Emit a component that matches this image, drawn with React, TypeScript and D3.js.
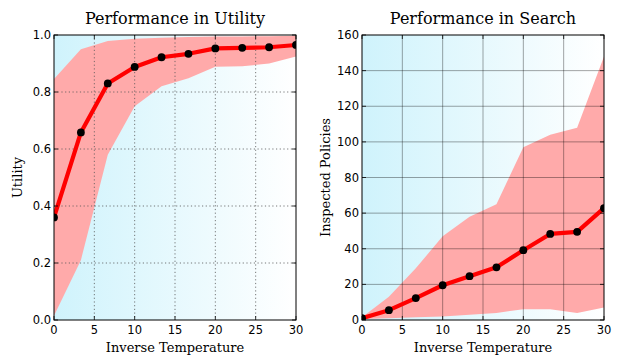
import React from "react";
import * as d3 from "d3";

const temps = [0, 3.333, 6.667, 10, 13.333, 16.667, 20, 23.333, 26.667, 30];
const utilMean = [0.36, 0.658, 0.83, 0.888, 0.922, 0.934, 0.953, 0.955, 0.957, 0.965];
const utilUpper = [0.846, 0.95, 0.979, 0.987, 0.99, 0.993, 0.995, 0.995, 0.996, 0.997];
const utilLower = [0.015, 0.21, 0.58, 0.75, 0.82, 0.848, 0.889, 0.89, 0.9, 0.925];
const searchMean = [1, 5.5, 12.3, 19.5, 24.6, 29.6, 39.2, 48.3, 49.5, 62.8];
const searchUpper = [1.5, 13, 29, 47, 58, 65, 97, 104, 108, 148];
const searchLower = [0.5, 1, 1.5, 2, 3, 4, 6, 6, 4, 7];
const xTicks = [0, 5, 10, 15, 20, 25, 30];
const utilTicks = [0, 0.2, 0.4, 0.6, 0.8, 1.0];
const searchTicks = [0, 20, 40, 60, 80, 100, 120, 140, 160];

type PanelProps = {
  id: string;
  left: number;
  right: number;
  top: number;
  bottom: number;
  yMax: number;
  mean: number[];
  upper: number[];
  lower: number[];
  yTicks: number[];
  fmt: (v: number) => string;
  title: string;
  yLabel: string;
  yLabelX: number;
  dotted: boolean;
};

function Panel(p: PanelProps) {
  const x = d3.scaleLinear().domain([0, 30]).range([p.left, p.right]);
  const y = d3.scaleLinear().domain([0, p.yMax]).range([p.bottom, p.top]);
  const area = d3
    .area<number>()
    .x((_, i) => x(temps[i]))
    .y0((_, i) => y(p.lower[i]))
    .y1((d) => y(d));
  const line = d3
    .line<number>()
    .x((_, i) => x(temps[i]))
    .y((d) => y(d));
  const serif = "'DejaVu Serif', 'Liberation Serif', serif";
  const sans = "'DejaVu Sans', sans-serif";
  const gridStyle = p.dotted
    ? { stroke: "#555", strokeWidth: 0.8, strokeDasharray: "1.2,2.5" }
    : { stroke: "#000", strokeOpacity: 0.45, strokeWidth: 0.8 };
  const cx = (p.left + p.right) / 2;
  const cy = (p.top + p.bottom) / 2;
  return (
    <g>
      <defs>
        <linearGradient id={p.id + "g"} x1="0" x2="1" y1="0" y2="0">
          <stop offset="0" stopColor="#cff3fc" />
          <stop offset="1" stopColor="#ffffff" />
        </linearGradient>
        <clipPath id={p.id + "c"}>
          <rect x={p.left} y={p.top} width={p.right - p.left} height={p.bottom - p.top} />
        </clipPath>
      </defs>
      <rect x={p.left} y={p.top} width={p.right - p.left} height={p.bottom - p.top} fill={`url(#${p.id}g)`} />
      <path d={area(p.upper) || ""} fill="#ffaaaa" stroke="none" clipPath={`url(#${p.id}c)`} />
      {xTicks.slice(1, -1).map((t) => (
        <line key={"gx" + t} x1={x(t)} x2={x(t)} y1={p.top} y2={p.bottom} {...gridStyle} />
      ))}
      {p.yTicks.slice(1, -1).map((t) => (
        <line key={"gy" + t} x1={p.left} x2={p.right} y1={y(t)} y2={y(t)} {...gridStyle} />
      ))}
      <g clipPath={`url(#${p.id}c)`}>
        <path d={line(p.mean) || ""} fill="none" stroke="#ff0000" strokeWidth={4.2} strokeLinejoin="round" />
        {p.mean.map((v, i) => (
          <circle key={i} cx={x(temps[i])} cy={y(v)} r={3.9} fill="#000" />
        ))}
      </g>
      <rect x={p.left} y={p.top} width={p.right - p.left} height={p.bottom - p.top} fill="none" stroke="#000" strokeWidth={1} />
      {xTicks.map((t) => (
        <g key={"xt" + t}>
          <line x1={x(t)} x2={x(t)} y1={p.bottom} y2={p.bottom - 4} stroke="#000" strokeWidth={0.8} />
          <line x1={x(t)} x2={x(t)} y1={p.top} y2={p.top + 4} stroke="#000" strokeWidth={0.8} />
          <text x={x(t)} y={p.bottom + 14} textAnchor="middle" fontFamily={sans} fontSize={11.5}>
            {t}
          </text>
        </g>
      ))}
      {p.yTicks.map((t) => (
        <g key={"yt" + t}>
          <line x1={p.left} x2={p.left + 4} y1={y(t)} y2={y(t)} stroke="#000" strokeWidth={0.8} />
          <line x1={p.right} x2={p.right - 4} y1={y(t)} y2={y(t)} stroke="#000" strokeWidth={0.8} />
          <text x={p.left - 3} y={y(t) + 4} textAnchor="end" fontFamily={sans} fontSize={11.5}>
            {p.fmt(t)}
          </text>
        </g>
      ))}
      <text x={cx} y={24} textAnchor="middle" fontFamily={serif} fontSize={16}>
        {p.title}
      </text>
      <text x={cx} y={p.bottom + 32} textAnchor="middle" fontFamily={serif} fontSize={13}>
        Inverse Temperature
      </text>
      <text
        transform={`translate(${p.yLabelX},${cy}) rotate(-90)`}
        textAnchor="middle"
        fontFamily={serif}
        fontSize={13}
      >
        {p.yLabel}
      </text>
    </g>
  );
}

export default function App() {
  return (
    <svg width={632} height={356} style={{ position: "absolute", left: 0, top: 0, background: "#fff" }}>
      <rect width={632} height={356} fill="#fff" />
      <Panel
        id="u"
        left={54}
        right={296}
        top={35}
        bottom={320}
        yMax={1}
        mean={utilMean}
        upper={utilUpper}
        lower={utilLower}
        yTicks={utilTicks}
        fmt={(v) => v.toFixed(1)}
        title="Performance in Utility"
        yLabel="Utility"
        yLabelX={22}
        dotted={true}
      />
      <Panel
        id="s"
        left={362}
        right={604}
        top={35}
        bottom={320}
        yMax={160}
        mean={searchMean}
        upper={searchUpper}
        lower={searchLower}
        yTicks={searchTicks}
        fmt={(v) => String(v)}
        title="Performance in Search"
        yLabel="Inspected Policies"
        yLabelX={330}
        dotted={false}
      />
    </svg>
  );
}
